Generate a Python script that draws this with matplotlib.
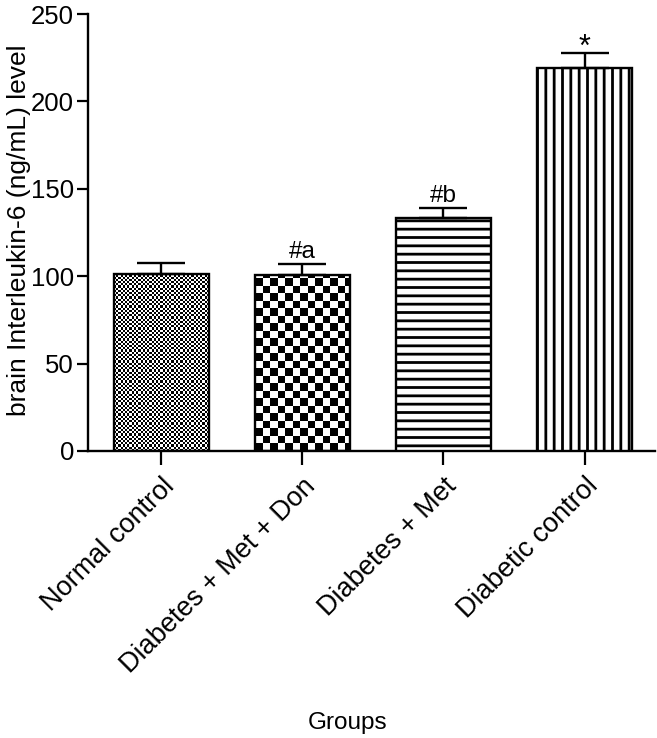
import numpy as np
import matplotlib
matplotlib.use("Agg")
import matplotlib.pyplot as plt

plt.rcParams['font.family'] = ['Liberation Sans', 'DejaVu Sans']
plt.rcParams['hatch.linewidth'] = 2.0

groups = ["Normal control", "Diabetes + Met + Don", "Diabetes + Met", "Diabetic control"]
values = [101.5, 100.5, 133.0, 219.0]
errors = [6.0, 6.5, 6.0, 8.5]
annotations = ["", "#a", "#b", "*"]
patterns = ["checker_fine", "checker_coarse", "--", "||"]

fig = plt.figure(figsize=(6.57, 7.38), dpi=100)
ax = fig.add_axes([0.134, 0.389, 0.863, 0.592])

x = np.arange(len(groups))
bars = ax.bar(x, values, width=0.67, facecolor='white', edgecolor='black',
              linewidth=1.7, zorder=3)

ax.set_xlim(-0.52, 3.5)
ax.set_ylim(0, 250)

# checker sizes in pixels
checker_px = {"checker_fine": 2.2, "checker_coarse": 7.5}
fig.canvas.draw()
trans = ax.transData
px_per_x = trans.transform((1, 0))[0] - trans.transform((0, 0))[0]
px_per_y = trans.transform((0, 1))[1] - trans.transform((0, 0))[1]

for bar, pat in zip(bars, patterns):
    if pat.startswith("checker"):
        s = checker_px[pat]
        sx = s / px_per_x
        sy = s / px_per_y
        x0, w = bar.get_x(), bar.get_width()
        h = bar.get_height()
        nx = int(np.ceil(w / sx)) + 1
        ny = int(np.ceil(h / sy)) + 1
        arr = (np.add.outer(np.arange(ny), np.arange(nx)) % 2).astype(float)
        im = ax.imshow(arr, cmap='gray', vmin=0, vmax=1, interpolation='nearest',
                       extent=(x0, x0 + nx * sx, 0, ny * sy), origin='lower',
                       aspect='auto', zorder=2.5)
        im.set_clip_path(bar)
        bar.set_facecolor('none')
    else:
        bar.set_hatch(pat)

ax.set_xlim(-0.52, 3.5)
ax.set_ylim(0, 250)

ax.errorbar(x, values, yerr=[np.zeros(len(values)), errors], fmt='none',
            ecolor='black', elinewidth=1.7, capsize=17, capthick=1.7, zorder=4)

for xi, v, e, a in zip(x, values, errors, annotations):
    if a == "*":
        ax.text(xi, v + e - 1.5, a, ha='center', va='baseline', fontsize=22)
    elif a:
        ax.text(xi, v + e + 3.5, a, ha='center', va='baseline', fontsize=17.5)

ax.set_yticks([0, 50, 100, 150, 200, 250])
ax.set_xticks(x)
ax.set_xticklabels(groups, rotation=45, ha='right', rotation_mode='anchor')
ax.tick_params(axis='y', labelsize=18.5, length=8, width=1.6, pad=2)
ax.tick_params(axis='x', labelsize=19.5, length=10, width=1.6, pad=6)

for side in ['top', 'right']:
    ax.spines[side].set_visible(False)
for side in ['left', 'bottom']:
    ax.spines[side].set_linewidth(1.7)

ax.set_ylabel("brain Interleukin-6 (ng/mL) level", fontsize=19)
ax.yaxis.set_label_coords(-0.1, 0.505)
ax.set_xlabel("Groups", fontsize=17.5)
ax.xaxis.set_label_coords(0.457, -0.597)

fig.savefig("out.png", dpi=100)
